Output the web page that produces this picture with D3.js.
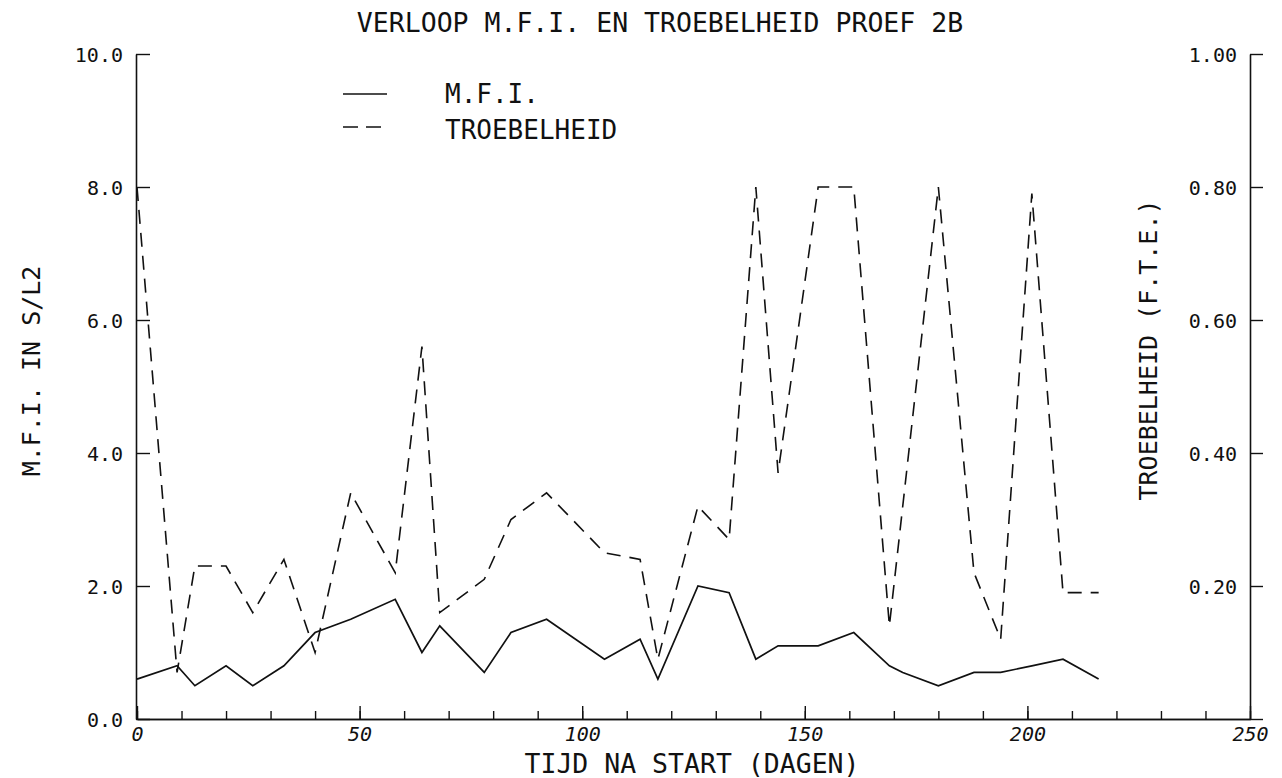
<!DOCTYPE html>
<html>
<head>
<meta charset="utf-8">
<script src="https://cdn.jsdelivr.net/npm/d3@7"></script>
<style>
  html, body { margin: 0; padding: 0; background: #fff; }
  svg { display: block; }
  text { font-family: "DejaVu Sans Mono", "Liberation Mono", monospace; fill: #111; }
</style>
</head>
<body>
<svg id="chart" width="1282" height="778"></svg>
<script>
// Days after start and measured M.F.I. (s/l2)
const mfiDays = [0, 9, 13, 20, 26, 33, 40, 48, 58, 64, 68, 78, 84, 92, 105, 113, 117, 126, 133, 139, 144, 153, 161, 169, 172, 180, 188, 194, 201, 208, 216];
const mfiValues = [0.6, 0.8, 0.5, 0.8, 0.5, 0.8, 1.3, 1.5, 1.8, 1.0, 1.4, 0.7, 1.3, 1.5, 0.9, 1.2, 0.6, 2.0, 1.9, 0.9, 1.1, 1.1, 1.3, 0.8, 0.7, 0.5, 0.7, 0.7, 0.8, 0.9, 0.6];

// Days after start and turbidity (F.T.E.)
const troebDays = [0, 9, 13, 20, 26, 33, 40, 48, 58, 64, 68, 78, 84, 92, 105, 113, 117, 126, 133, 139, 144, 153, 161, 169, 180, 188, 194, 201, 208, 216];
const troebValues = [0.80, 0.07, 0.23, 0.23, 0.16, 0.24, 0.10, 0.34, 0.22, 0.56, 0.16, 0.21, 0.30, 0.34, 0.25, 0.24, 0.09, 0.32, 0.27, 0.80, 0.37, 0.80, 0.80, 0.14, 0.80, 0.22, 0.12, 0.79, 0.19, 0.19];

// Axis ticks
const xMajorTicks = [0, 50, 100, 150, 200, 250];
const xMinorTicks = d3.range(0, 251, 10);
const yLeftTicks = [0, 2, 4, 6, 8, 10];
const yRightTicks = [0, 0.2, 0.4, 0.6, 0.8, 1.0];

// Texts
const titleText = "VERLOOP M.F.I. EN TROEBELHEID PROEF 2B";
const xLabel = "TIJD NA START (DAGEN)";
const yLeftLabel = "M.F.I. IN S/L2";
const yRightLabel = "TROEBELHEID (F.T.E.)";
const legendLabels = ["M.F.I.", "TROEBELHEID"];

const svg = d3.select("#chart");
const plot = { left: 137, right: 1250, top: 54, bottom: 719 };

const x = d3.scaleLinear().domain([0, 250]).range([plot.left, plot.right]);
const yL = d3.scaleLinear().domain([0, 10]).range([plot.bottom, plot.top]);
const yR = d3.scaleLinear().domain([0, 1]).range([plot.bottom, plot.top]);

const ink = "#111";

function styleAxis(g) {
  g.selectAll("path.domain").attr("stroke", ink).attr("stroke-width", 1.6);
  g.selectAll(".tick line").attr("stroke", ink).attr("stroke-width", 1.4);
  g.selectAll(".tick text").attr("fill", ink);
}

// Minor x ticks (every 10 days), pointing up into the plot
svg.append("g")
  .attr("transform", `translate(0,${plot.bottom})`)
  .call(d3.axisBottom(x).tickValues(xMinorTicks).tickSize(-8).tickSizeOuter(0).tickFormat(""))
  .call(styleAxis);

// Major x ticks with labels
const xAxis = svg.append("g")
  .attr("transform", `translate(0,${plot.bottom})`)
  .call(d3.axisBottom(x).tickValues(xMajorTicks).tickSize(-13).tickSizeOuter(0).tickFormat(d3.format("d")))
  .call(styleAxis);
xAxis.selectAll(".tick text")
  .attr("y", 22).attr("dy", 0)
  .style("font-size", "20px")
  .style("font-style", "oblique");

// Left axis (M.F.I.)
const leftAxis = svg.append("g")
  .attr("transform", `translate(${plot.left - 1},0)`)
  .call(d3.axisLeft(yL).tickValues(yLeftTicks).tickSize(-14).tickSizeOuter(0).tickPadding(13).tickFormat(d3.format(".1f")))
  .call(styleAxis);
leftAxis.selectAll(".tick text").style("font-size", "20px").attr("dy", "0.36em");

// Right axis (turbidity): ticks outward, labels inside the plot
const rightAxis = svg.append("g")
  .attr("transform", `translate(${plot.right},0)`)
  .call(d3.axisLeft(yR).tickValues(yRightTicks).tickSize(-13).tickSizeOuter(0).tickPadding(13)
    .tickFormat(d => d === 0 ? "" : d3.format(".2f")(d)))
  .call(styleAxis);
rightAxis.selectAll(".tick text").style("font-size", "20px").attr("dy", "0.36em");

// Series lines
const mfiLine = d3.line().x((d, i) => x(mfiDays[i])).y(d => yL(d));
const troebLine = d3.line().x((d, i) => x(troebDays[i])).y(d => yR(d));

svg.append("path")
  .datum(troebValues)
  .attr("d", troebLine)
  .attr("fill", "none")
  .attr("stroke", ink)
  .attr("stroke-width", 1.6)
  .attr("stroke-dasharray", "14,9");

svg.append("path")
  .datum(mfiValues)
  .attr("d", mfiLine)
  .attr("fill", "none")
  .attr("stroke", ink)
  .attr("stroke-width", 1.7)
  .attr("stroke-linejoin", "miter");

// Title
svg.append("text")
  .attr("x", 660).attr("y", 32)
  .attr("text-anchor", "middle")
  .style("font-size", "26.5px")
  .text(titleText);

// X axis label
svg.append("text")
  .attr("x", 692).attr("y", 773)
  .attr("text-anchor", "middle")
  .style("font-size", "26.5px")
  .text(xLabel);

// Left axis label
svg.append("text")
  .attr("transform", "translate(40,371) rotate(-90)")
  .attr("text-anchor", "middle")
  .style("font-size", "25px")
  .text(yLeftLabel);

// Right axis label
svg.append("text")
  .attr("transform", "translate(1157,350) rotate(-90)")
  .attr("text-anchor", "middle")
  .style("font-size", "25px")
  .text(yRightLabel);

// Legend
const legend = svg.append("g").attr("transform", "translate(343,0)");
const legendRows = [
  { label: legendLabels[0], y: 94, dash: null, base: 103 },
  { label: legendLabels[1], y: 127, dash: "15,8", base: 139 }
];
legendRows.forEach(r => {
  legend.append("line")
    .attr("x1", 0).attr("x2", r.dash ? 38 : 44)
    .attr("y1", r.y).attr("y2", r.y)
    .attr("stroke", ink).attr("stroke-width", 1.6)
    .attr("stroke-dasharray", r.dash);
  legend.append("text")
    .attr("x", 102).attr("y", r.base)
    .style("font-size", "26px")
    .text(r.label);
});
</script>
</body>
</html>
